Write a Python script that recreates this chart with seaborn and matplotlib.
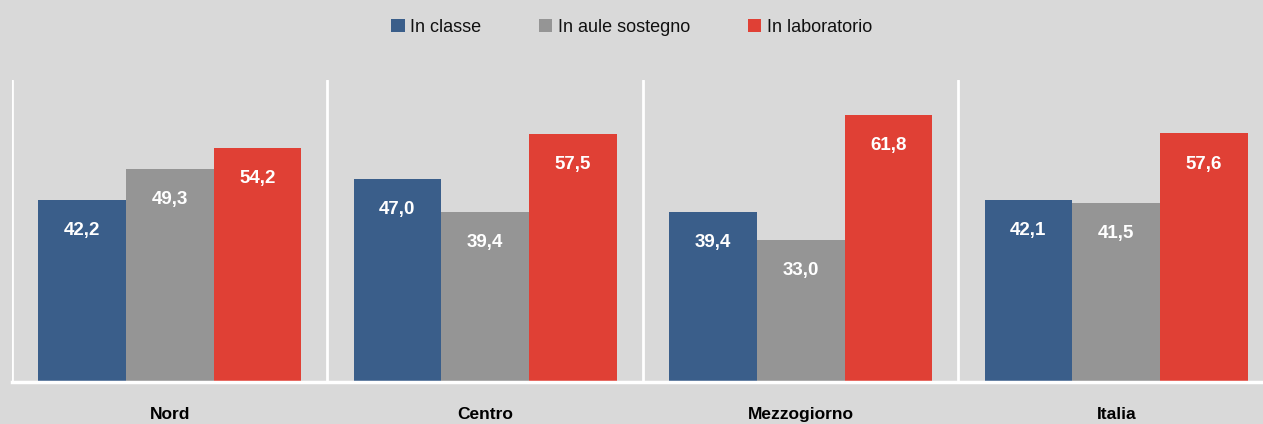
import matplotlib
matplotlib.use("Agg")
import matplotlib.pyplot as plt
import seaborn as sns
import pandas as pd

# data
areas = ["Nord", "Centro", "Mezzogiorno", "Italia"]
series = ["In classe", "In aule sostegno", "In laboratorio"]
in_classe = [42.2, 47.0, 39.4, 42.1]
in_aule_sostegno = [49.3, 39.4, 33.0, 41.5]
in_laboratorio = [54.2, 57.5, 61.8, 57.6]
colors = ["#3A5E8A", "#959595", "#E04035"]

df = pd.DataFrame({
    "area": areas * 3,
    "serie": [s for s in series for _ in areas],
    "valore": in_classe + in_aule_sostegno + in_laboratorio,
})

sns.set_theme(style="white")
plt.rcParams["font.family"] = ["Liberation Sans Narrow", "Liberation Sans", "DejaVu Sans"]

bg = "#D9D9D9"
fig = plt.figure(figsize=(12.63, 4.24), dpi=100, facecolor=bg)
ax = fig.add_axes([12 / 1263, 42 / 424, 1262 / 1263, 302 / 424])
ax.set_facecolor(bg)

sns.barplot(data=df, x="area", y="valore", hue="serie", order=areas,
            hue_order=series, palette=colors, width=0.835, gap=0,
            saturation=1, linewidth=0, ax=ax, legend=True)

ax.set_ylim(0, 70)
ax.set_xlim(-0.5, 3.5)

# value labels inside bars
for cont in ax.containers:
    for p in cont:
        h = p.get_height()
        ax.annotate(f"{h:.1f}".replace(".", ","),
                    (p.get_x() + p.get_width() / 2, h),
                    xytext=(0, -22), textcoords="offset points",
                    ha="center", va="center", color="white",
                    fontsize=13.5, fontweight="bold")

# white group separators and baseline
for xs in [-0.5, 0.5, 1.5, 2.5]:
    ax.axvline(xs, color="white", lw=2, zorder=0)
for s in ["top", "right", "left"]:
    ax.spines[s].set_visible(False)
ax.spines["bottom"].set_color("white")
ax.spines["bottom"].set_linewidth(2.5)

ax.set_yticks([])
ax.set_xlabel("")
ax.set_ylabel("")
ax.tick_params(axis="x", length=0, pad=18)
for t in ax.get_xticklabels():
    t.set_fontweight("bold")
    t.set_fontsize(12.5)
    t.set_color("black")

leg = ax.legend(loc="center", bbox_to_anchor=(0.5, 1 - 27 / 424),
                bbox_transform=fig.transFigure, ncol=3, frameon=False,
                fontsize=13, handlelength=0.75, handleheight=0.75,
                handletextpad=0.3, columnspacing=3.2)
for t in leg.get_texts():
    t.set_color("#111111")

fig.savefig("out.png", dpi=100, facecolor=bg)
